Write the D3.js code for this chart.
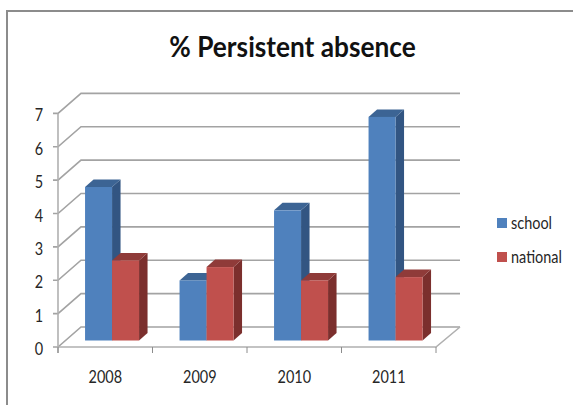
<!DOCTYPE html>
<html>
<head>
<meta charset="utf-8">
<script src="https://cdn.jsdelivr.net/npm/d3@7"></script>
<style>
  html, body { margin: 0; padding: 0; background: #fff; }
  svg { display: block; }
  text { font-family: Lato, "Open Sans", sans-serif; fill: #262626; }
</style>
</head>
<body>
<svg id="chart" width="573" height="405"></svg>
<script>
const titleText = "% Persistent absence";
const years = ["2008", "2009", "2010", "2011"];
const seriesNames = ["school", "national"];
const school = [4.6, 1.8, 3.9, 6.7];
const national = [2.4, 2.2, 1.8, 1.9];
const yTicks = [0, 1, 2, 3, 4, 5, 6, 7];

const palette = {
  school: { front: "#4f81bd", top: "#3c6494", side: "#325582" },
  national: { front: "#c0504d", top: "#8f3b39", side: "#7b2f2d" }
};
const gridColor = "#a3a3a3";

// Oblique projection: the wall sits up and right of the front axis plane.
const wallDx = 23, wallDy = -20;
const barDx = 8.5, barDy = -7.5;
const barInsetY = -6.5;
const barShiftX = 6.8;
const barWidth = 27;

// Labels are set in a condensed cut of the face.
const narrow = 0.85;
const titleNarrow = 0.905;

const x = d3.scaleBand().domain(years).range([58, 436]);
const y = d3.scaleLinear().domain([0, 7]).range([347, 113.4]);
const series = d3.scaleBand().domain(seriesNames).range([-barWidth, barWidth]);

const svg = d3.select("#chart");

// Outer frame: only the top and left edges are visible.
const frame = svg.append("g").attr("stroke", "#8c8c8c").attr("stroke-width", 2);
frame.append("line").attr("x1", 6).attr("x2", 573).attr("y1", 11).attr("y2", 11);
frame.append("line").attr("x1", 7).attr("x2", 7).attr("y1", 10).attr("y2", 405);

svg.append("text")
  .attr("transform", `translate(292.5,57) scale(${titleNarrow},1)`)
  .attr("text-anchor", "middle")
  .attr("font-size", 29).attr("font-weight", 700)
  .style("fill", "#111")
  .text(titleText);

// Back wall gridlines with their receding side-wall segments.
const grid = svg.append("g").attr("fill", "none").attr("stroke", gridColor).attr("stroke-width", 1.6);
grid.selectAll("path").data(yTicks).join("path")
  .attr("d", d => d3.line()([
    [x.range()[0] - 5, y(d)],
    [x.range()[0], y(d)],
    [x.range()[0] + wallDx, y(d) + wallDy],
    [x.range()[1] + wallDx + 1, y(d) + wallDy]
  ]));

// Front axis lines and floor edge.
const axes = svg.append("g").attr("fill", "none").attr("stroke", "#b0b0b0").attr("stroke-width", 1.6);
axes.append("line")
  .attr("x1", x.range()[0]).attr("x2", x.range()[0])
  .attr("y1", y(7)).attr("y2", y(0) + 6);
axes.append("path")
  .attr("d", d3.line()([
    [x.range()[0], y(0)],
    [x.range()[1], y(0)],
    [x.range()[1] + wallDx + 1, y(0) + wallDy]
  ]));
axes.selectAll("line.tick").data([...years.map(d => x(d)), x.range()[1]]).join("line")
  .attr("class", "tick")
  .attr("x1", d => d).attr("x2", d => d)
  .attr("y1", y(0)).attr("y2", y(0) + 6)
  .attr("stroke", "#8c8c8c").attr("stroke-width", 1);

svg.append("g").selectAll("text").data(yTicks).join("text")
  .attr("transform", d => `translate(39,${y(d) + 8}) scale(${narrow},1)`)
  .attr("text-anchor", "middle")
  .attr("font-size", 17)
  .text(d => d);

svg.append("g").selectAll("text").data(years).join("text")
  .attr("transform", d => `translate(${x(d) + x.bandwidth() / 2},383) scale(${narrow},1)`)
  .attr("text-anchor", "middle")
  .attr("font-size", 17)
  .text(d => d);

// One 3D column: side face, top face, then the front face.
function drawBar(g, left, value, colors) {
  const base = y(0) + barInsetY;
  const top = y(value) + barInsetY;
  const right = left + barWidth;
  g.append("polygon").attr("fill", colors.side)
    .attr("points", [[right, top], [right + barDx, top + barDy], [right + barDx, base + barDy], [right, base]].join(" "));
  g.append("polygon").attr("fill", colors.top)
    .attr("points", [[left, top], [left + barDx, top + barDy], [right + barDx, top + barDy], [right, top]].join(" "));
  g.append("rect").attr("fill", colors.front)
    .attr("x", left).attr("y", top).attr("width", barWidth).attr("height", base - top);
}

const bars = svg.append("g");
years.forEach((year, i) => {
  const center = x(year) + x.bandwidth() / 2 + barShiftX;
  const g = bars.append("g");
  drawBar(g, center + series("school"), school[i], palette.school);
  drawBar(g, center + series("national"), national[i], palette.national);
});

// Legend
const legendY = d3.scalePoint().domain(seriesNames).range([223, 257]);
const legend = svg.append("g").selectAll("g").data(seriesNames).join("g")
  .attr("transform", d => `translate(497,${legendY(d)})`);
legend.append("rect")
  .attr("x", 0).attr("y", -5).attr("width", 10).attr("height", 10)
  .attr("fill", d => palette[d].front);
legend.append("text")
  .attr("transform", `translate(14,6) scale(${narrow},1)`)
  .attr("font-size", 17)
  .text(d => d);
</script>
</body>
</html>
